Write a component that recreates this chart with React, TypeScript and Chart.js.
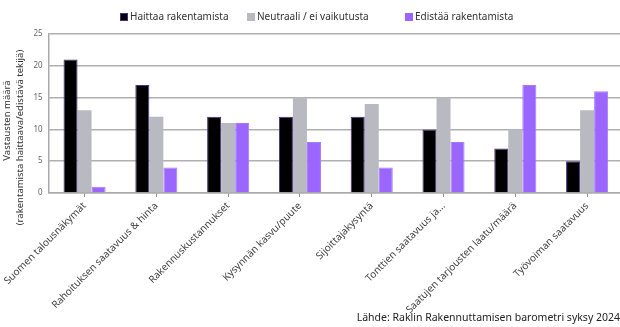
import React, { useEffect, useRef } from "react";
import { Chart, registerables } from "chart.js";

Chart.register(...registerables);

const categories = [
  "Suomen talousnäkymät",
  "Rahoituksen saatavuus & hinta",
  "Rakennuskustannukset",
  "Kysynnän kasvu/puute",
  "Sijoittajakysyntä",
  "Tonttien saatavuus ja...",
  "Saatujen tarjousten laatu/määrä",
  "Työvoiman saatavuus",
];

const haittaa = [21, 17, 12, 12, 12, 10, 7, 5];
const neutraali = [13, 12, 11, 15, 14, 15, 10, 13];
const edistaa = [1, 4, 11, 8, 4, 8, 17, 16];

const seriesLabels = ["Haittaa rakentamista", "Neutraali / ei vaikutusta", "Edistää rakentamista"];
const seriesColors = ["#000000", "#b9bac1", "#9a66ff"];
const yTitleLines = ["Vastausten määrä", "(rakentamista haittaava/edistävä tekijä)"];
const sourceText = "Lähde: Raklin Rakennuttamisen barometri syksy 2024";

const FONT = "'Noto Sans', sans-serif";

// Legend row, two-line rotated y-axis title and the source note.
const extrasPlugin = {
  id: "extras",
  afterDraw(chart: any) {
    const { ctx, chartArea } = chart;
    ctx.save();

    // legend
    const legendX = [120, 247, 405];
    ctx.font = `10px ${FONT}`;
    ctx.textAlign = "left";
    ctx.textBaseline = "middle";
    seriesLabels.forEach((t, i) => {
      ctx.fillStyle = seriesColors[i];
      ctx.fillRect(legendX[i], 13, 8, 8);
      if (i === 0) {
        ctx.strokeStyle = "#4a2d80";
        ctx.lineWidth = 1;
        ctx.strokeRect(legendX[i] + 0.5, 13.5, 7, 7);
      }
      ctx.fillStyle = "#333";
      ctx.fillText(t, legendX[i] + 10, 17.5);
    });

    // y-axis title
    ctx.fillStyle = "#333";
    ctx.font = `9.5px ${FONT}`;
    ctx.textAlign = "center";
    const mid = (chartArea.top + chartArea.bottom) / 2;
    const lines = [
      { x: 7, y: mid + 7 },
      { x: 20, y: mid + 24 },
    ];
    yTitleLines.forEach((t, i) => {
      ctx.save();
      ctx.translate(lines[i].x, lines[i].y);
      ctx.rotate(-Math.PI / 2);
      ctx.fillText(t, 0, 0);
      ctx.restore();
    });

    // source
    ctx.font = `10.5px ${FONT}`;
    ctx.fillStyle = "#222";
    ctx.textAlign = "right";
    ctx.fillText(sourceText, 620, 318);
    ctx.restore();
  },
};

export default function App() {
  const ref = useRef<HTMLCanvasElement>(null);

  useEffect(() => {
    if (!ref.current) return;
    const chart = new Chart(ref.current, {
      type: "bar",
      data: {
        labels: categories,
        datasets: [
          {
            label: seriesLabels[0],
            data: haittaa,
            backgroundColor: seriesColors[0],
            borderColor: "#4a2d80",
            borderWidth: 1,
          },
          {
            label: seriesLabels[1],
            data: neutraali,
            backgroundColor: seriesColors[1],
            borderWidth: 0,
          },
          {
            label: seriesLabels[2],
            data: edistaa,
            backgroundColor: seriesColors[2],
            borderColor: "#a57aff",
            borderWidth: 1,
          },
        ],
      },
      options: {
        animation: false,
        responsive: false,
        maintainAspectRatio: false,
        layout: { padding: { top: 34, left: 0, right: 0, bottom: 0 } },
        plugins: {
          legend: { display: false },
          tooltip: { enabled: false },
        },
        datasets: {
          bar: { categoryPercentage: 0.586, barPercentage: 1 },
        },
        scales: {
          x: {
            grid: {
              display: true,
              drawOnChartArea: false,
              drawTicks: true,
              tickLength: 4,
              offset: false,
              color: "#999",
            },
            border: { color: "#aaa", width: 1.5 },
            ticks: {
              minRotation: 45,
              maxRotation: 45,
              autoSkip: false,
              padding: 3,
              color: "#444",
              font: { family: FONT, size: 10 },
            },
            afterFit(s: any) {
              s.height = 134;
            },
          },
          y: {
            min: 0,
            max: 25,
            ticks: {
              stepSize: 5,
              color: "#666",
              padding: 6,
              font: { family: FONT, size: 8 },
            },
            grid: { color: "#b0b0b0", lineWidth: 1.5, drawTicks: false },
            border: { color: "#aaa", width: 1.5 },
            afterFit(s: any) {
              s.width = 48;
            },
          },
        },
      },
      plugins: [extrasPlugin],
    });
    return () => chart.destroy();
  }, []);

  return (
    <div
      style={{
        position: "absolute",
        left: 0,
        top: 0,
        width: 620,
        height: 327,
        overflow: "hidden",
        background: "#fff",
      }}
    >
      <canvas ref={ref} width={623} height={327} style={{ display: "block" }} />
    </div>
  );
}
